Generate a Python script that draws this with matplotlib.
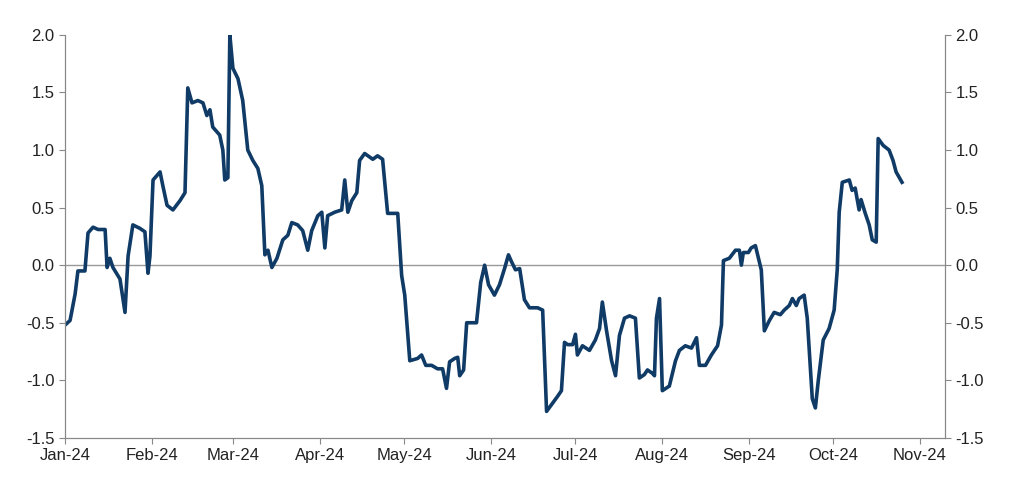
import matplotlib
matplotlib.use("Agg")
import matplotlib.pyplot as plt
import matplotlib.dates as mdates
import pandas as pd

plt.rcParams["font.family"] = ["Liberation Sans", "DejaVu Sans"]

# days since 1 Jan 2024, and index value
days = [0, 1.8, 3.6, 4.6, 7.1, 8.2, 10.0, 11.8, 14.3, 15.0, 16.0, 17.1, 19.6, 21.4, 22.5,
        24.2, 26.7, 28.5, 29.6, 30.3, 31.4, 33.9, 34.9, 36.4, 38.5, 41.0, 42.8, 43.8, 45.3,
        47.4, 49.2, 50.6, 51.7, 52.7, 55.2, 56.3, 57.0, 58.1, 58.8, 59.9, 61.7, 63.4, 65.2,
        67.0, 68.8, 70.2, 71.3, 72.4, 73.8, 75.6, 77.7, 79.5, 80.9, 83.0, 84.8, 86.6, 88.0,
        90.2, 91.6, 92.7, 93.7, 96.2, 98.7, 99.8, 100.9, 102.3, 104.1, 105.1, 106.9, 109.8,
        111.5, 113.3, 115.1, 118.7, 120.1, 121.2, 123.0, 125.8, 127.2, 128.7, 130.8, 132.9,
        134.7, 136.1, 137.2, 139.0, 140.1, 140.8, 142.2, 143.3, 145.4, 146.8, 148.3, 149.7,
        151.1, 153.2, 155.0, 156.8, 158.2, 159.3, 160.7, 162.2, 163.9, 165.7, 168.6, 170.4,
        171.8, 173.9, 175.7, 177.1, 178.2, 179.3, 181.1, 182.1, 182.8, 184.6, 187.1, 189.2,
        190.7, 191.7, 193.2, 195.0, 196.4, 197.8, 199.6, 201.4, 203.5, 204.9, 206.7, 207.8,
        209.6, 210.3, 211.0, 212.1, 213.1, 215.6, 217.8, 219.2, 221.3, 223.5, 225.3, 226.3,
        228.5, 230.6, 232.8, 234.2, 234.9, 237.0, 239.2, 240.6, 241.3, 242.0, 243.8, 244.8,
        246.3, 248.4, 249.5, 251.3, 253.0, 255.2, 256.6, 258.4, 259.5, 260.9, 261.9, 263.7,
        264.8, 266.6, 267.7, 268.7, 270.5, 272.6, 274.4, 275.5, 276.2, 277.3, 279.8, 280.8,
        281.9, 283.3, 284.0, 285.5, 286.9, 288.0, 289.4, 290.1, 291.9, 294.0, 295.4, 296.5,
        298.6]
values = [-0.52, -0.48, -0.25, -0.05, -0.05, 0.28, 0.33, 0.31, 0.31, -0.02, 0.06, -0.02, -0.12,
          -0.41, 0.08, 0.35, 0.32, 0.29, -0.07, 0.08, 0.74, 0.81, 0.69, 0.52, 0.48, 0.56, 0.63,
          1.54, 1.41, 1.43, 1.41, 1.30, 1.35, 1.20, 1.13, 1.00, 0.74, 0.76, 2.00, 1.71, 1.62,
          1.43, 1.00, 0.91, 0.84, 0.69, 0.09, 0.13, -0.02, 0.06, 0.22, 0.26, 0.37, 0.35, 0.30,
          0.13, 0.30, 0.43, 0.46, 0.15, 0.43, 0.46, 0.48, 0.74, 0.46, 0.56, 0.63, 0.91, 0.97,
          0.92, 0.95, 0.92, 0.45, 0.45, -0.09, -0.26, -0.83, -0.81, -0.78, -0.87, -0.87, -0.90,
          -0.90, -1.07, -0.84, -0.81, -0.80, -0.96, -0.91, -0.50, -0.50, -0.50, -0.15, 0.00,
          -0.17, -0.26, -0.17, -0.03, 0.09, 0.03, -0.04, -0.03, -0.30, -0.37, -0.37, -0.39,
          -1.27, -1.20, -1.14, -1.09, -0.67, -0.69, -0.69, -0.60, -0.78, -0.70, -0.74, -0.65,
          -0.55, -0.32, -0.57, -0.83, -0.96, -0.61, -0.46, -0.44, -0.46, -0.98, -0.95, -0.91,
          -0.94, -0.96, -0.46, -0.29, -1.09, -1.05, -0.83, -0.74, -0.70, -0.72, -0.63, -0.87,
          -0.87, -0.78, -0.70, -0.52, 0.04, 0.06, 0.13, 0.13, 0.00, 0.11, 0.11, 0.15, 0.17,
          -0.04, -0.57, -0.48, -0.41, -0.43, -0.39, -0.35, -0.29, -0.35, -0.29, -0.26, -0.46,
          -1.16, -1.24, -1.01, -0.65, -0.55, -0.39, -0.04, 0.46, 0.72, 0.74, 0.65, 0.67, 0.48,
          0.57, 0.45, 0.35, 0.22, 0.20, 1.10, 1.04, 1.00, 0.91, 0.81, 0.72]

yticks = [-1.5, -1.0, -0.5, 0.0, 0.5, 1.0, 1.5, 2.0]

dates = pd.Timestamp("2024-01-01") + pd.to_timedelta(days, unit="D")

fig = plt.figure(figsize=(10.24, 4.92), dpi=100)
ax = fig.add_axes([0.0635, 0.11, 0.8595, 0.819])

ax.axhline(0, color="#999999", lw=1)
ax.plot(dates, values, color="#0f3b66", lw=2.6)

ax.set_ylim(-1.5, 2.0)
ax.set_xlim(pd.Timestamp("2024-01-01"), pd.Timestamp("2024-11-10"))
ax.set_yticks(yticks)
ax.set_yticklabels([f"{t:.1f}" for t in yticks])
ax.xaxis.set_major_locator(mdates.MonthLocator())
ax.xaxis.set_major_formatter(mdates.DateFormatter("%b-%y"))

ax2 = ax.twinx()
ax2.set_ylim(-1.5, 2.0)
ax2.set_yticks(yticks)
ax2.set_yticklabels([f"{t:.1f}" for t in yticks])

for a in (ax, ax2):
    a.spines["top"].set_visible(False)
    for s in a.spines.values():
        s.set_color("#888888")
    a.tick_params(labelsize=12, colors="#222222", length=4, color="#888888")

fig.savefig("out.png", dpi=100)
